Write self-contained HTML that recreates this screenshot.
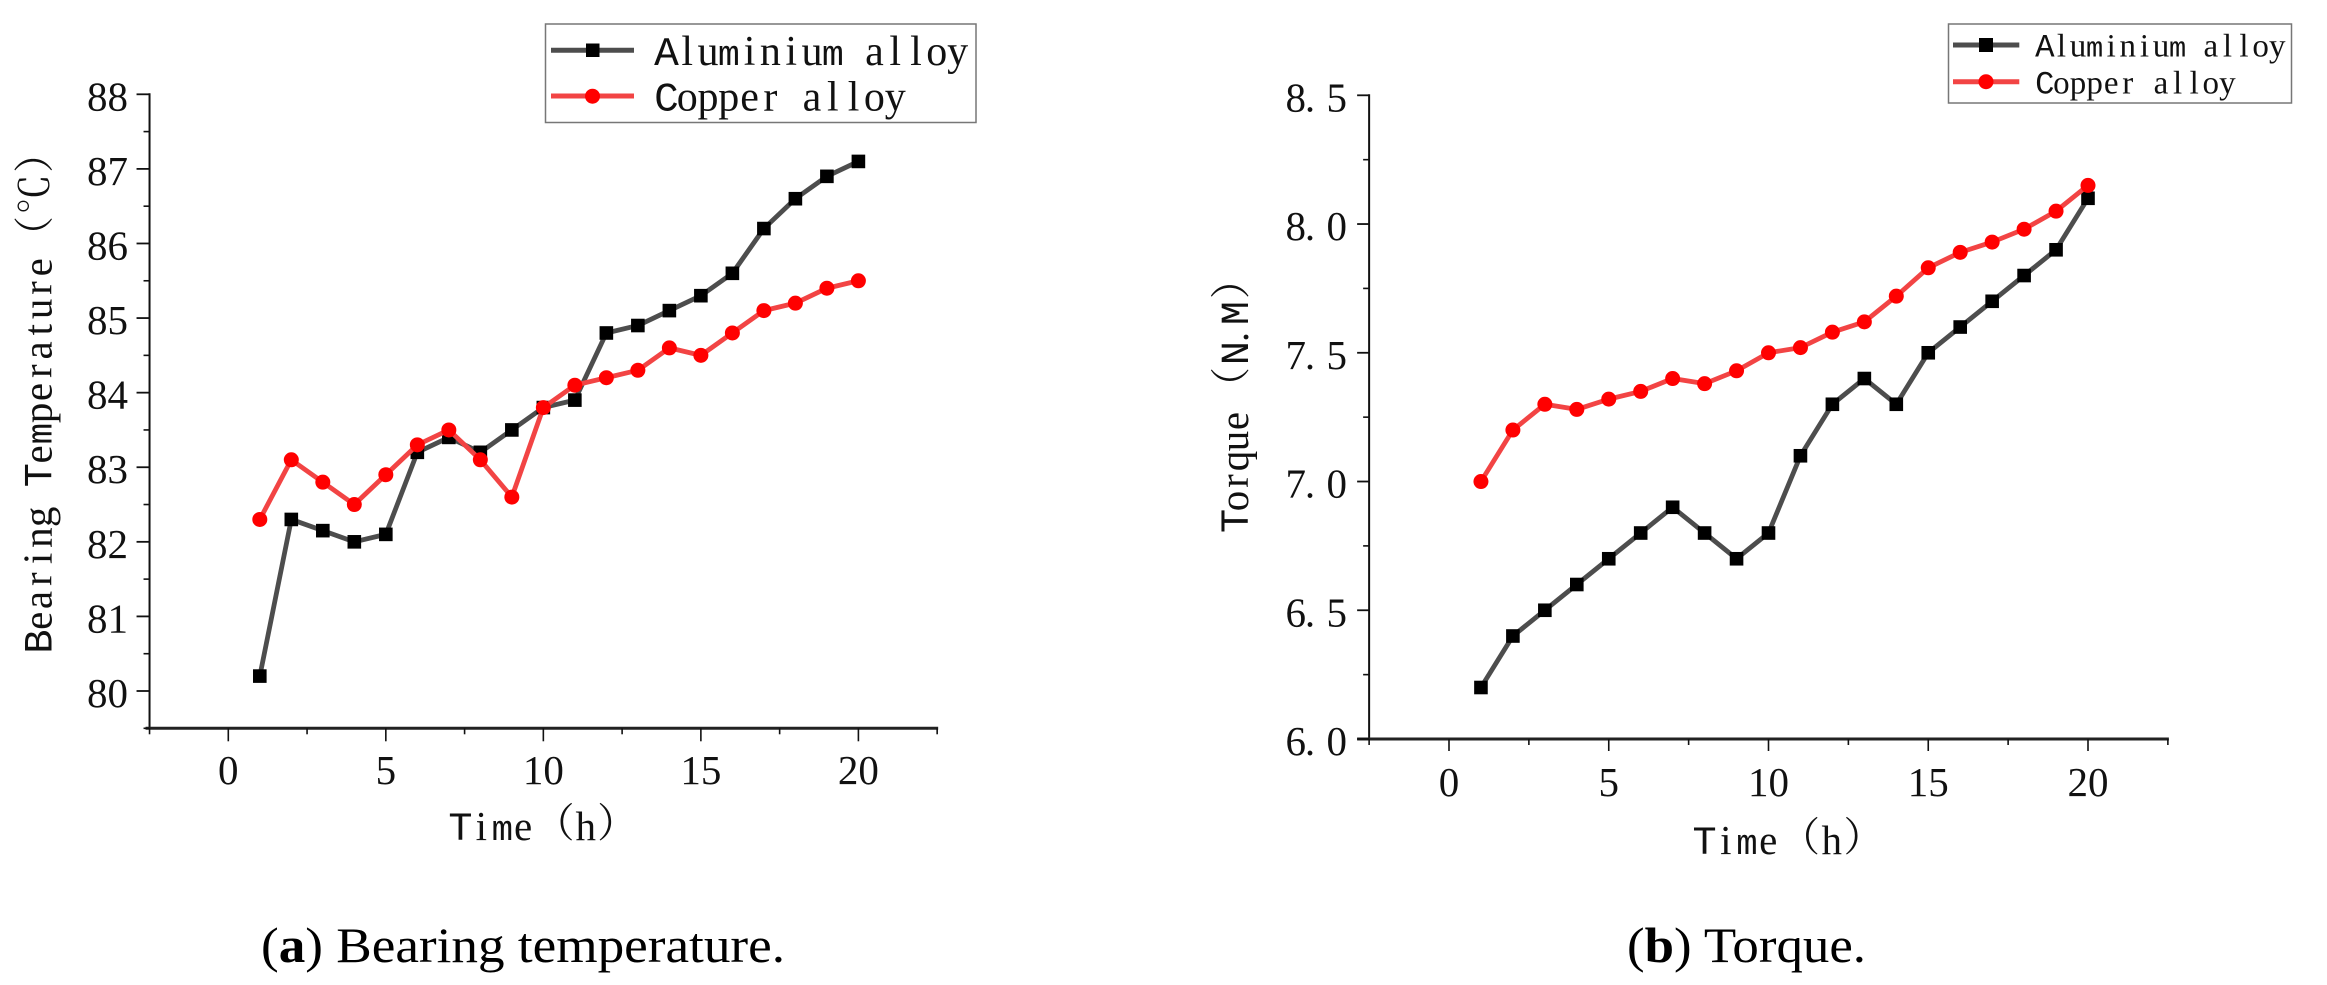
<!DOCTYPE html>
<html>
<head>
<meta charset="utf-8">
<title>Bearing temperature and torque charts</title>
<style>
html,body{margin:0;padding:0;background:#fff;width:2327px;height:985px;overflow:hidden}
svg{display:block}
.tick{font-family:"Liberation Serif",serif;font-size:41px;fill:#111}
.sim{font-family:"Liberation Serif",serif;fill:#111;text-anchor:middle}
.m{font-family:"Liberation Mono",monospace;font-size:.87em}
.cp{font-family:"Liberation Mono",monospace;font-size:.98em}
.cjk{font-family:"Noto Serif CJK SC",serif;font-size:.98em}
.cap{font-family:"Liberation Serif",serif;font-size:49.5px;fill:#000}
</style>
</head>
<body>
<svg id="chart" xmlns="http://www.w3.org/2000/svg" width="2327" height="985" viewBox="0 0 2327 985">
  <rect width="2327" height="985" fill="#fff"/>
  <g id="panel-a"></g>
  <g id="panel-b"></g>

  <text class="sim" font-size="41" data-pitch="20.8" transform="translate(51.5,652) rotate(-90)"><tspan class="cp">B</tspan>earing <tspan class="cp">T</tspan>e<tspan class="m">m</tspan>perature<tspan class="cjk" y="-3">（℃）</tspan></text>
  <text class="sim" font-size="41" data-pitch="20.9" transform="translate(450,840)"><tspan class="cp">T</tspan>i<tspan class="m">m</tspan>e<tspan class="cjk" y="-3">（</tspan><tspan y="0">h</tspan><tspan class="cjk" y="-3">）</tspan></text>
  <text class="sim" font-size="41" x="10 30 50 70 90 110 144 178 194 218 252" transform="translate(1248,531) rotate(-90)"><tspan class="cp">T</tspan>orque<tspan class="cjk" y="-3">（</tspan><tspan class="cp" y="0">N</tspan><tspan y="0">.</tspan><tspan class="cp" y="0">M</tspan><tspan class="cjk" y="-3">）</tspan></text>
  <text class="sim" font-size="41" data-pitch="21.2" transform="translate(1694,854)"><tspan class="cp">T</tspan>i<tspan class="m">m</tspan>e<tspan class="cjk" y="-3">（</tspan><tspan y="0">h</tspan><tspan class="cjk" y="-3">）</tspan></text>

  <g>
    <rect x="545.5" y="24" width="430.5" height="98.5" fill="#fff" stroke="#777" stroke-width="1.5"/>
    <line x1="551" y1="50.3" x2="634" y2="50.3" stroke="#4d4d4d" stroke-width="5"/>
    <rect x="586" y="43.5" width="13.5" height="13.5" fill="#000"/>
    <text class="sim" font-size="42" data-pitch="20.8" transform="translate(656,65)"><tspan class="cp">A</tspan>lu<tspan class="m">m</tspan>iniu<tspan class="m">m</tspan> alloy</text>
    <line x1="551" y1="96" x2="634" y2="96" stroke="#f24444" stroke-width="5"/>
    <circle cx="592.5" cy="96.2" r="7.5" fill="#f00"/>
    <text class="sim" font-size="42" data-pitch="20.8" transform="translate(656,110.5)"><tspan class="cp">C</tspan>opper alloy</text>
  </g>

  <g>
    <rect x="1948.5" y="24" width="343" height="79" fill="#fff" stroke="#777" stroke-width="1.5"/>
    <line x1="1953" y1="45" x2="2019.3" y2="45" stroke="#4d4d4d" stroke-width="5"/>
    <rect x="1979" y="38" width="14" height="14" fill="#000"/>
    <text class="sim" font-size="33" data-pitch="16.6" transform="translate(2036.5,56.5)"><tspan class="cp">A</tspan>lu<tspan class="m">m</tspan>iniu<tspan class="m">m</tspan> alloy</text>
    <line x1="1953" y1="81.7" x2="2019.3" y2="81.7" stroke="#f24444" stroke-width="5"/>
    <circle cx="1986" cy="81.7" r="7.5" fill="#f00"/>
    <text class="sim" font-size="33" data-pitch="16.6" transform="translate(2036.5,93.3)"><tspan class="cp">C</tspan>opper alloy</text>
  </g>

  <text class="cap" x="261" y="962" textLength="524" lengthAdjust="spacingAndGlyphs">(<tspan font-weight="bold">a</tspan>) Bearing temperature.</text>
  <text class="cap" x="1627" y="962" textLength="239" lengthAdjust="spacingAndGlyphs">(<tspan font-weight="bold">b</tspan>) Torque.</text>
</svg>
<script>
var hours = [1,2,3,4,5,6,7,8,9,10,11,12,13,14,15,16,17,18,19,20];
var tempAluminium = [80.2,82.3,82.15,82,82.1,83.2,83.4,83.2,83.5,83.8,83.9,84.8,84.9,85.1,85.3,85.6,86.2,86.6,86.9,87.1];
var tempCopper = [82.3,83.1,82.8,82.5,82.9,83.3,83.5,83.1,82.6,83.8,84.1,84.2,84.3,84.6,84.5,84.8,85.1,85.2,85.4,85.5];
var torqueAluminium = [6.2,6.4,6.5,6.6,6.7,6.8,6.9,6.8,6.7,6.8,7.1,7.3,7.4,7.3,7.5,7.6,7.7,7.8,7.9,8.1];
var torqueCopper = [7.0,7.2,7.3,7.28,7.32,7.35,7.4,7.38,7.43,7.5,7.52,7.58,7.62,7.72,7.83,7.89,7.93,7.98,8.05,8.15];
var xMajorTicks = [0,5,10,15,20];
var xMinorTicks = [-2.5,2.5,7.5,12.5,17.5,22.5];
var tempMajorTicks = [80,81,82,83,84,85,86,87,88];
var tempMinorTicks = [79.5,80.5,81.5,82.5,83.5,84.5,85.5,86.5,87.5];
var torqueMajorTicks = [6.0,6.5,7.0,7.5,8.0,8.5];
var torqueMinorTicks = [6.25,6.75,7.25,7.75,8.25];

var NS = 'http://www.w3.org/2000/svg';
function make(parent, tag, attrs, text) {
  var el = document.createElementNS(NS, tag);
  for (var k in attrs) el.setAttribute(k, attrs[k]);
  if (text !== undefined) el.textContent = text;
  parent.appendChild(el);
  return el;
}
function linear(d0, d1, r0, r1) {
  return function (v) { return r0 + (v - d0) * (r1 - r0) / (d1 - d0); };
}

/* Lay out labels on a half-width / full-width character grid */
document.querySelectorAll('text[data-pitch]').forEach(function (t) {
  var pitch = parseFloat(t.getAttribute('data-pitch'));
  var pos = 0, xs = [];
  Array.from(t.textContent).forEach(function (ch) {
    var wide = ch.charCodeAt(0) > 255;
    xs.push((pos + (wide ? pitch : pitch / 2)).toFixed(1));
    pos += wide ? 2 * pitch : pitch;
  });
  t.setAttribute('x', xs.join(' '));
});

function drawAxes(g, x, y, o) {
  var left = x(-2.5), right = x(22.5), base = y(o.yMin), top = y(o.yMax);
  var yAxis = make(g, 'line', {x1: left, y1: top - 1, x2: left, y2: base, stroke: '#111', 'stroke-width': 2});
  
  
  var xAxis = make(g, 'line', {x1: left - o.overshoot, y1: base, x2: right + 1, y2: base, stroke: '#222', 'stroke-width': 3});
  
  

  xMajorTicks.forEach(function (t) {
    var tick = make(g, 'line', {x1: x(t), y1: base, x2: x(t), y2: base + o.major, stroke: '#111', 'stroke-width': 1.6});
    
    
    var label = make(g, 'text', {'class': 'tick', x: x(t), y: o.xLabelY, 'text-anchor': 'middle'}, String(t));
    
    
  });
  xMinorTicks.forEach(function (t) {
    var tick = make(g, 'line', {x1: x(t), y1: base, x2: x(t), y2: base + o.minor, stroke: '#111', 'stroke-width': 1.6});
    
    
  });
  o.yMajor.forEach(function (t) {
    var tick = make(g, 'line', {x1: left - o.major, y1: y(t), x2: left, y2: y(t), stroke: '#111', 'stroke-width': 1.8});
    
    
    var attrs;
    if (o.decimals) {
      attrs = {'class': 'tick', x: [o.yLabelX - 51.3, o.yLabelX - 37, o.yLabelX - 10.3].join(' '), y: y(t) + o.yLabelDy, 'text-anchor': 'middle'};
    } else {
      attrs = {'class': 'tick', x: o.yLabelX, y: y(t) + o.yLabelDy, 'text-anchor': 'end'};
    }
    var label = make(g, 'text', attrs, o.decimals ? t.toFixed(o.decimals) : String(t));
    
    
  });
  o.yMinor.forEach(function (t) {
    var tick = make(g, 'line', {x1: left - o.minor, y1: y(t), x2: left, y2: y(t), stroke: '#111', 'stroke-width': 1.6});
    
    
  });
}

function drawSeries(g, x, y, values, color, shape, name) {
  var pts = values.map(function (v, i) { return x(hours[i]) + ',' + y(v); }).join(' ');
  var line = make(g, 'polyline', {points: pts, fill: 'none', stroke: color, 'stroke-width': 4.8, 'stroke-linejoin': 'round'});
  
  
  values.forEach(function (v, i) {
    var m;
    if (shape === 'square') {
      m = make(g, 'rect', {x: x(hours[i]) - 6.8, y: y(v) - 6.8, width: 13.6, height: 13.6, fill: '#000'});
    } else {
      m = make(g, 'circle', {cx: x(hours[i]), cy: y(v), r: 7.5, fill: '#f00'});
    }
    
    
  });
}

var panelA = document.getElementById('panel-a');
var xA = linear(0, 20, 228.3, 858.4);
var yA = linear(80, 88, 691, 94.3);
drawAxes(panelA, xA, yA, {yMin: 79.5, yMax: 88, yMajor: tempMajorTicks, yMinor: tempMinorTicks, major: 13, minor: 6, overshoot: 4, xLabelY: 784, yLabelX: 128, yLabelDy: 16, decimals: 0});
drawSeries(panelA, xA, yA, tempAluminium, '#4d4d4d', 'square', 'aluminium-temperature');
drawSeries(panelA, xA, yA, tempCopper, '#f24444', 'circle', 'copper-temperature');

var panelB = document.getElementById('panel-b');
var xB = linear(0, 20, 1449, 2088);
var yB = linear(6, 8.5, 739, 95.3);
drawAxes(panelB, xB, yB, {yMin: 6, yMax: 8.5, yMajor: torqueMajorTicks, yMinor: torqueMinorTicks, major: 12, minor: 6, overshoot: 12, xLabelY: 796, yLabelX: 1347, yLabelDy: 16, decimals: 1});
drawSeries(panelB, xB, yB, torqueAluminium, '#4d4d4d', 'square', 'aluminium-torque');
drawSeries(panelB, xB, yB, torqueCopper, '#f24444', 'circle', 'copper-torque');
</script>
</body>
</html>
